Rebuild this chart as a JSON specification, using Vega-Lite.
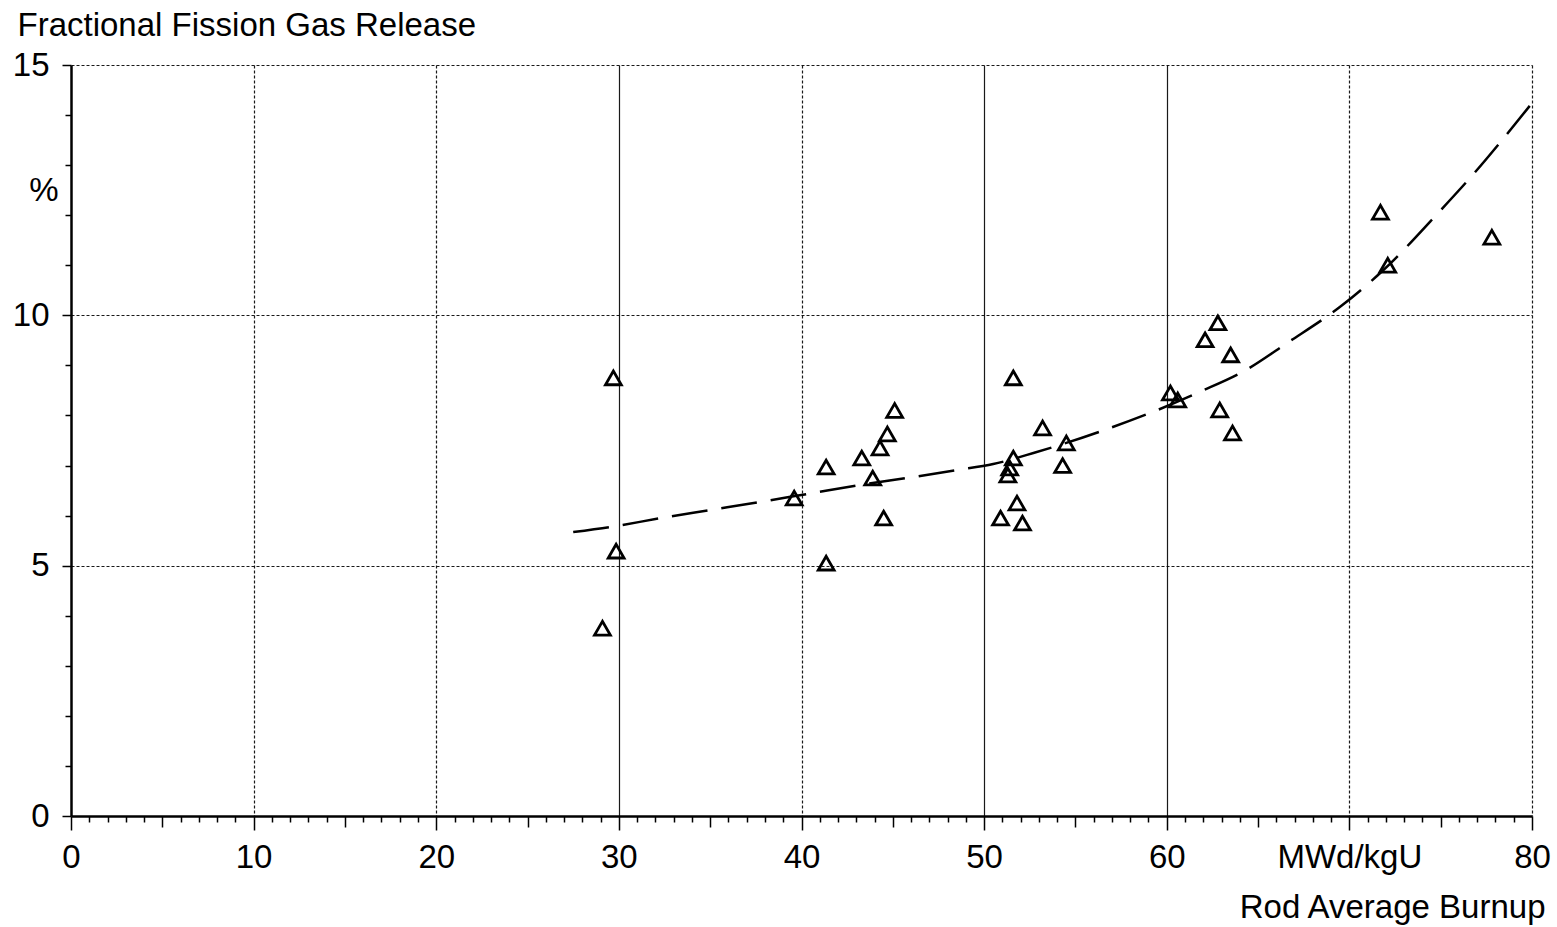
{
  "$schema": "https://vega.github.io/schema/vega-lite/v6.json",
  "width": 1461,
  "height": 751,
  "autosize": {"type": "none"},
  "padding": {"left": 71, "top": 65, "right": 25, "bottom": 111},
  "background": "white",
  "config": {"view": {"stroke": null}, "font": "Liberation Sans"},
  "datasets": {
    "points": [
      {"burnup": 29.1, "fgr": 3.75},
      {"burnup": 29.7, "fgr": 8.75},
      {"burnup": 29.85, "fgr": 5.29},
      {"burnup": 39.6, "fgr": 6.35},
      {"burnup": 41.35, "fgr": 6.97},
      {"burnup": 41.35, "fgr": 5.05},
      {"burnup": 43.3, "fgr": 7.15},
      {"burnup": 43.9, "fgr": 6.75},
      {"burnup": 44.3, "fgr": 7.35},
      {"burnup": 44.7, "fgr": 7.63},
      {"burnup": 45.1, "fgr": 8.1},
      {"burnup": 44.5, "fgr": 5.95},
      {"burnup": 50.9, "fgr": 5.95},
      {"burnup": 51.3, "fgr": 6.81},
      {"burnup": 51.4, "fgr": 6.95},
      {"burnup": 51.6, "fgr": 7.15},
      {"burnup": 51.6, "fgr": 8.75},
      {"burnup": 51.8, "fgr": 6.25},
      {"burnup": 52.1, "fgr": 5.85},
      {"burnup": 53.2, "fgr": 7.75},
      {"burnup": 54.3, "fgr": 7.0},
      {"burnup": 54.5, "fgr": 7.45},
      {"burnup": 60.2, "fgr": 8.45},
      {"burnup": 60.6, "fgr": 8.31},
      {"burnup": 62.1, "fgr": 9.51},
      {"burnup": 62.8, "fgr": 9.85},
      {"burnup": 63.5, "fgr": 9.21},
      {"burnup": 62.9, "fgr": 8.11},
      {"burnup": 63.6, "fgr": 7.65},
      {"burnup": 71.7, "fgr": 12.06},
      {"burnup": 72.1, "fgr": 11.0},
      {"burnup": 77.8, "fgr": 11.56}
    ],
    "curve": [
      {"burnup": 27.5, "fgr": 5.67},
      {"burnup": 29.5, "fgr": 5.77},
      {"burnup": 32.3, "fgr": 5.95},
      {"burnup": 35.0, "fgr": 6.11},
      {"burnup": 37.7, "fgr": 6.27},
      {"burnup": 40.6, "fgr": 6.45},
      {"burnup": 43.2, "fgr": 6.61},
      {"burnup": 46.1, "fgr": 6.77},
      {"burnup": 48.5, "fgr": 6.91},
      {"burnup": 50.5, "fgr": 7.03},
      {"burnup": 52.7, "fgr": 7.25},
      {"burnup": 56.9, "fgr": 7.75},
      {"burnup": 59.5, "fgr": 8.11},
      {"burnup": 61.8, "fgr": 8.47},
      {"burnup": 64.3, "fgr": 8.9},
      {"burnup": 66.6, "fgr": 9.45},
      {"burnup": 69.6, "fgr": 10.2},
      {"burnup": 71.85, "fgr": 10.9},
      {"burnup": 75.0, "fgr": 12.1},
      {"burnup": 76.5, "fgr": 12.7},
      {"burnup": 80.0, "fgr": 14.24}
    ]
  },
  "encoding": {
    "x": {
      "field": "burnup", "type": "quantitative",
      "scale": {"domain": [0, 80], "nice": false, "zero": false},
      "axis": {
        "values": [0,1,2,3,4,5,6,7,8,9,10,11,12,13,14,15,16,17,18,19,20,21,22,23,24,25,26,27,28,29,30,31,32,33,34,35,36,37,38,39,40,41,42,43,44,45,46,47,48,49,50,51,52,53,54,55,56,57,58,59,60,61,62,63,64,65,66,67,68,69,70,71,72,73,74,75,76,77,78,79,80],
        "domainWidth": 2.5,
        "domainColor": "black",
        "tickColor": "black",
        "tickWidth": 1.5,
        "tickSize": {"condition": [{"test": "datum.value % 10 === 0", "value": 14}, {"test": "datum.value % 5 === 0", "value": 11}], "value": 6},
        "labelExpr": "datum.value === 70 ? 'MWd/kgU' : (datum.value % 10 === 0 ? datum.label : '')",
        "labelFontSize": 33,
        "labelFont": "Liberation Sans",
        "labelColor": "black",
        "labelPadding": 11,
        "labelOverlap": false,
        "labelFlush": false,
        "grid": true,
        "gridColor": "black",
        "gridWidth": 1.2,
        "gridOpacity": {"condition": {"test": "datum.value % 10 === 0 && datum.value > 0", "value": 0.9}, "value": 0},
        "gridDash": {"condition": {"test": "datum.value === 30 || datum.value === 50 || datum.value === 60", "value": []}, "value": [3, 2]},
        "title": "Rod Average Burnup",
        "titleFont": "Liberation Sans",
        "titleFontSize": 33,
        "titleFontWeight": "normal",
        "titleColor": "black",
        "titleAlign": "right",
        "titleX": 1474,
        "titleY": 91,
        "titleBaseline": "middle"
      }
    },
    "y": {
      "field": "fgr", "type": "quantitative",
      "scale": {"domain": [0, 15], "nice": false, "zero": false},
      "axis": {
        "values": [0,1,2,3,4,5,6,7,8,9,10,11,12,12.5,13,14,15],
        "domainWidth": 2.5,
        "domainColor": "black",
        "tickColor": "black",
        "tickWidth": 1.5,
        "tickSize": {"condition": [{"test": "datum.value === 12.5", "value": 0}, {"test": "datum.value % 5 === 0", "value": 9}], "value": 6},
        "labelExpr": "datum.value === 12.5 ? '%' : (datum.value % 5 === 0 ? datum.label : '')",
        "labelFontSize": 33,
        "labelFont": "Liberation Sans",
        "labelColor": "black",
        "labelPadding": 13,
        "labelOverlap": false,
        "labelFlush": false,
        "grid": true,
        "gridColor": "black",
        "gridWidth": 1.2,
        "gridOpacity": {"condition": {"test": "datum.value % 5 === 0 && datum.value > 0", "value": 0.9}, "value": 0},
        "gridDash": [3, 2],
        "title": "Fractional Fission Gas Release",
        "titleFont": "Liberation Sans",
        "titleFontSize": 33,
        "titleFontWeight": "normal",
        "titleColor": "black",
        "titleAngle": 0,
        "titleAlign": "left",
        "titleX": -54,
        "titleY": -40,
        "titleBaseline": "middle"
      }
    }
  },
  "layer": [
    {
      "data": {"name": "curve"},
      "mark": {"type": "line", "color": "black", "strokeWidth": 2.5, "strokeDash": [36, 14], "interpolate": "monotone", "clip": true}
    },
    {
      "data": {"name": "points"},
      "mark": {"type": "point", "shape": "triangle-up", "filled": false, "stroke": "black", "strokeWidth": 2.8, "size": 250, "opacity": 1}
    }
  ]
}
